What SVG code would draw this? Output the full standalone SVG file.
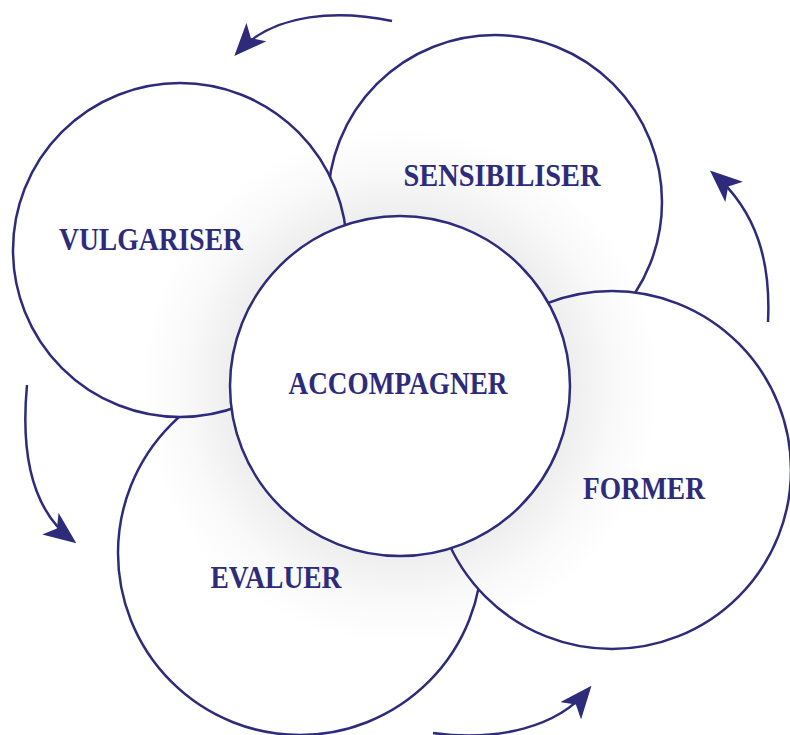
<svg xmlns="http://www.w3.org/2000/svg" width="790" height="735" viewBox="0 0 790 735">
<style>
.c{stroke:#2e2b7b;stroke-width:2.5;fill:url(#sh)}
.cc{stroke:#2e2b7b;stroke-width:2.5;fill:#ffffff}
.t{font-family:"Liberation Serif","DejaVu Serif",serif;font-weight:bold;font-size:31px;fill:#2e2b7b;text-anchor:middle}
.a{fill:none;stroke:#2e2b7b;stroke-width:2.5;marker-end:url(#ah)}
</style>
<defs>
<radialGradient id="sh" gradientUnits="userSpaceOnUse" cx="400" cy="386" r="300">
<stop offset="0" stop-color="#ffffff"/>
<stop offset="0.55" stop-color="#ffffff"/>
<stop offset="0.57" stop-color="#eeeeef"/>
<stop offset="0.72" stop-color="#f9f9f9"/>
<stop offset="0.86" stop-color="#ffffff"/>
<stop offset="1" stop-color="#ffffff"/>
</radialGradient>
<marker id="ah" viewBox="0 0 12 10" refX="10" refY="5" markerWidth="13" markerHeight="11" markerUnits="strokeWidth" orient="auto">
<path d="M0,0 L12,5 L0,10 L3,5 z" fill="#2e2b7b"/>
</marker>
</defs>
<rect width="790" height="735" fill="#ffffff"/>
<g id="sensibiliser">
<circle class="c" cx="495" cy="202" r="167"/>
<text class="t" x="502" y="186" textLength="197" lengthAdjust="spacingAndGlyphs">SENSIBILISER</text>
</g>
<g id="evaluer">
<circle class="c" cx="300" cy="553" r="182"/>
<text class="t" x="276" y="588" textLength="131" lengthAdjust="spacingAndGlyphs">EVALUER</text>
</g>
<g id="vulgariser">
<circle class="c" cx="180" cy="250" r="167"/>
<text class="t" x="151" y="250" textLength="184" lengthAdjust="spacingAndGlyphs">VULGARISER</text>
</g>
<g id="former">
<circle class="c" cx="612" cy="470" r="179"/>
<text class="t" x="644" y="499" textLength="122" lengthAdjust="spacingAndGlyphs">FORMER</text>
</g>
<g id="accompagner">
<circle class="cc" cx="400" cy="386" r="170"/>
<text class="t" x="398" y="394" textLength="219" lengthAdjust="spacingAndGlyphs">ACCOMPAGNER</text>
</g>
<g id="connectors">
<path class="a" d="M392,21 C340,10 275,12 238,52"/>
<path class="a" d="M768,322 C771,262 757,212 714,174"/>
<path class="a" d="M27,385 C20,460 35,512 72,540"/>
<path class="a" d="M433,733 C500,742 558,726 588,690"/>
</g>
</svg>
